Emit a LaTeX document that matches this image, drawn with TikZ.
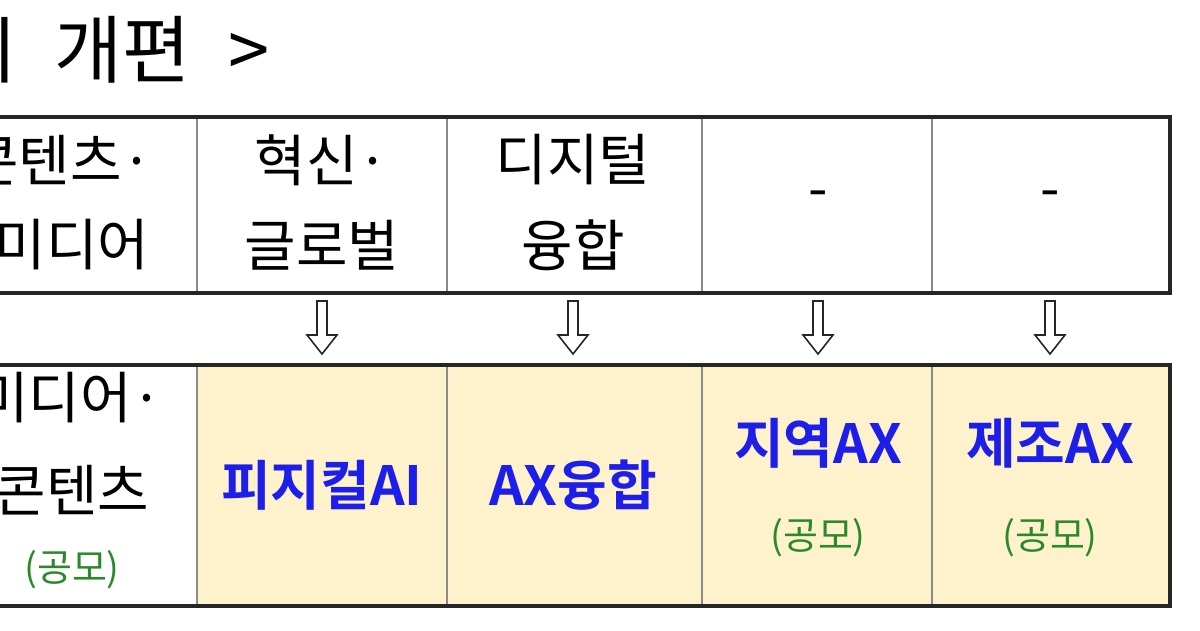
\documentclass[tikz,border=0pt]{standalone}
\usepackage{fontspec}
\newfontfamily\kr{Noto Sans CJK KR}
\newfontfamily\krb{Noto Sans CJK KR Bold}
\definecolor{cellyel}{HTML}{FDF2CB}
\definecolor{tblue}{HTML}{1E1EEB}
\definecolor{tgreen}{HTML}{2A8A2A}
\definecolor{gline}{HTML}{8A8A8A}
\tikzset{
  txt/.style={font=\kr\fontsize{56}{60}\selectfont, align=center, inner sep=0},
  btxt/.style={font=\krb\fontsize{54}{58}\selectfont, text=tblue, inner sep=0},
  gtxt/.style={font=\kr\fontsize{38}{40}\selectfont, text=tgreen, inner sep=0},
  dnarrow/.style={draw=black!85, fill=white, line width=1.6pt, line join=miter},
  outer/.style={line width=4pt, draw=black!85},
  inner/.style={line width=1.5pt, draw=gline}
}
\begin{document}
\begin{tikzpicture}[x=1pt,y=-1pt]
\useasboundingbox (0,0) rectangle (1200,630);
\clip (0,0) rectangle (1200,630);
% title
\node[font=\kr\fontsize{74}{78}\selectfont, anchor=west, inner sep=0] (title) at (-30,50) {ㅣ 개편 \;>};
% top table
\draw[inner] (197,117) -- (197,293) (447,117) -- (447,293) (702,117) -- (702,293) (932,117) -- (932,293);
\draw[outer] (-10,117) rectangle (1170,293);
\node[txt] (a1) at (60,160) {콘텐츠·};
\node[txt] (a2) at (72,245) {미디어};
\node[txt] (b1) at (322,160) {혁신·};
\node[txt] (b2) at (322,245) {글로벌};
\node[txt] (c1) at (573,160) {디지털};
\node[txt] (c2) at (573,245) {융합};
\node[txt] (d1) at (818,200) {-};
\node[txt] (e1) at (1050,200) {-};
% arrows
\foreach \cx in {322,573,818,1050}{
  \draw[dnarrow] (\cx-5,301) -- (\cx+5,301) -- (\cx+5,335) -- (\cx+15,335) -- (\cx,354) -- (\cx-15,335) -- (\cx-5,335) -- cycle;
}
% bottom table
\fill[cellyel] (197,365) rectangle (1170,606);
\draw[inner] (197,365) -- (197,606) (447,365) -- (447,606) (702,365) -- (702,606) (932,365) -- (932,606);
\draw[outer] (-10,365) rectangle (1170,606);
\node[txt] (f1) at (70,398) {미디어·};
\node[txt] (f2) at (72,490) {콘텐츠};
\node[gtxt] (f3) at (72,570) {(공모)};
\node[btxt] (g1) at (322,485) {피지컬AI};
\node[btxt] (h1) at (573,485) {AX융합};
\node[btxt] (i1) at (818,443) {지역AX};
\node[gtxt] (i2) at (818,538) {(공모)};
\node[btxt] (j1) at (1050,443) {제조AX};
\node[gtxt] (j2) at (1050,538) {(공모)};
\end{tikzpicture}
\end{document}
